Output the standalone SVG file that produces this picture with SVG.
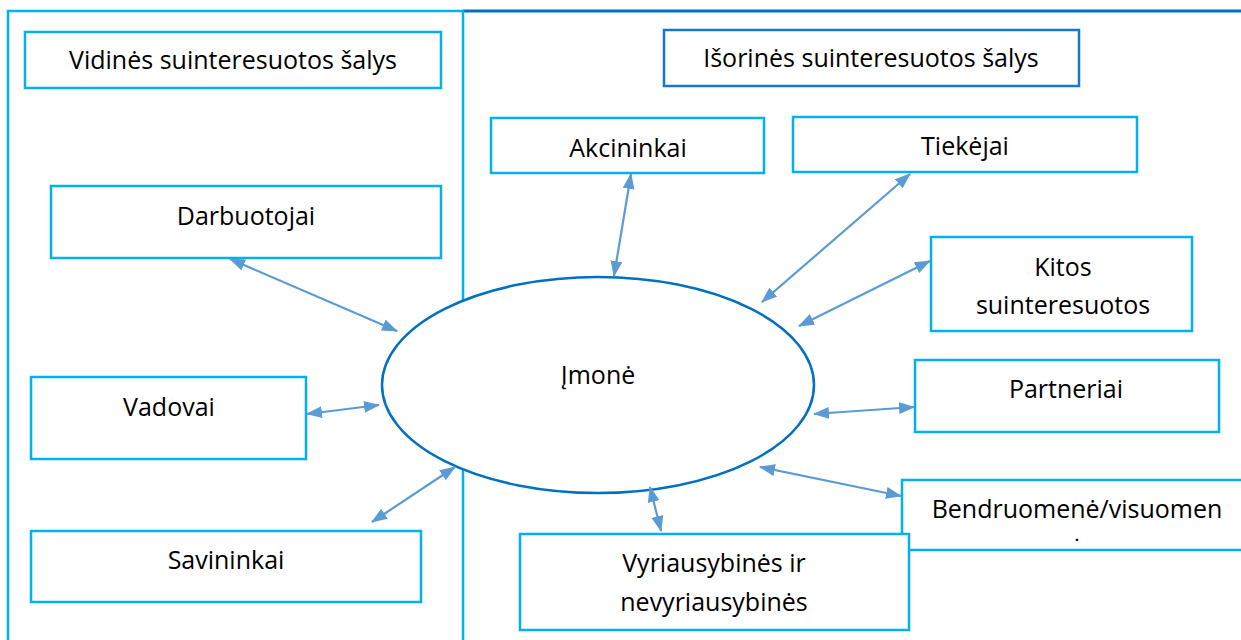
<svg xmlns="http://www.w3.org/2000/svg" width="1241" height="640" viewBox="0 0 1241 640">
  <style>
    .box { fill: #FFFFFF; stroke: #00B0F0; stroke-width: 2.5; }
    .hdr { fill: #FFFFFF; stroke: #1877C6; stroke-width: 2.5; }
    .lbl { font-family: "Open Sans", "Noto Sans", "Liberation Sans", sans-serif; font-size: 25px; fill: #000000; text-anchor: middle; }
    .dot { font-size: 15px; font-weight: bold; }
    .link { stroke: #5B9BD5; stroke-width: 2.2; fill: none; marker-start: url(#ah); marker-end: url(#ah); }
  </style>
  <defs>
    <marker id="ah" viewBox="0 0 16 12" refX="15" refY="6" markerWidth="16" markerHeight="12" markerUnits="userSpaceOnUse" orient="auto-start-reverse">
      <path d="M0,0 L16,6 L0,12 Z" fill="#5B9BD5"/>
    </marker>
  </defs>

  <rect width="1241" height="640" fill="#FFFFFF"/>

  <!-- panel frames -->
  <g id="panels">
    <line x1="463" y1="11" x2="1241" y2="11" stroke="#0070C0" stroke-width="3"/>
    <path d="M8,645 V11 H463 V645" fill="none" stroke="#00B0F0" stroke-width="2.5"/>
  </g>

  <!-- headers -->
  <g id="internal-header">
    <rect class="box" x="25" y="32" width="416" height="56"/>
    <text class="lbl" x="233" y="69">Vidinės suinteresuotos šalys</text>
  </g>
  <g id="external-header">
    <rect class="hdr" x="664" y="30" width="415" height="56"/>
    <text class="lbl" x="871" y="67">Išorinės suinteresuotos šalys</text>
  </g>

  <!-- internal stakeholders -->
  <g id="darbuotojai">
    <rect class="box" x="51" y="186" width="390" height="72"/>
    <text class="lbl" x="246" y="225">Darbuotojai</text>
  </g>
  <g id="vadovai">
    <rect class="box" x="31" y="377" width="275" height="82"/>
    <text class="lbl" x="169" y="416">Vadovai</text>
  </g>
  <g id="savininkai">
    <rect class="box" x="31" y="531" width="390" height="71"/>
    <text class="lbl" x="226" y="569">Savininkai</text>
  </g>

  <!-- external stakeholders -->
  <g id="akcininkai">
    <rect class="box" x="491" y="118" width="273" height="55"/>
    <text class="lbl" x="628" y="157">Akcininkai</text>
  </g>
  <g id="tiekejai">
    <rect class="box" x="793" y="117" width="344" height="55"/>
    <text class="lbl" x="965" y="155">Tiekėjai</text>
  </g>
  <g id="kitos">
    <rect class="box" x="931" y="237" width="261" height="94"/>
    <text class="lbl" x="1063" y="276">Kitos</text>
    <text class="lbl" x="1063" y="314">suinteresuotos</text>
  </g>
  <g id="partneriai">
    <rect class="box" x="915" y="360" width="304" height="72"/>
    <text class="lbl" x="1066" y="398">Partneriai</text>
  </g>
  <g id="bendruomene">
    <rect class="box" x="902" y="480" width="345" height="70"/>
    <text class="lbl" x="1077" y="518">Bendruomenė/visuomen</text>
    <text class="lbl dot" x="1077" y="541">.</text>
  </g>
  <g id="vyriausybines">
    <rect class="box" x="520" y="534" width="389" height="96"/>
    <text class="lbl" x="714" y="572">Vyriausybinės ir</text>
    <text class="lbl" x="714" y="611">nevyriausybinės</text>
  </g>

  <!-- company -->
  <g id="imone">
    <ellipse cx="598" cy="385" rx="216" ry="108" fill="#FFFFFF" stroke="#0070C0" stroke-width="2.5"/>
    <text class="lbl" x="598" y="384">Įmonė</text>
  </g>

  <!-- two-way relations -->
  <g id="connectors">
    <line class="link" x1="230" y1="259" x2="397" y2="331"/>
    <line class="link" x1="307" y1="414" x2="379" y2="405"/>
    <line class="link" x1="372" y1="522" x2="455" y2="467"/>
    <line class="link" x1="631" y1="174" x2="614" y2="276"/>
    <line class="link" x1="910" y1="174" x2="762" y2="302"/>
    <line class="link" x1="930" y1="261" x2="799" y2="326"/>
    <line class="link" x1="914" y1="407" x2="814" y2="414"/>
    <line class="link" x1="901" y1="496" x2="760" y2="467"/>
    <line class="link" x1="650" y1="487" x2="661" y2="531"/>
  </g>
</svg>
